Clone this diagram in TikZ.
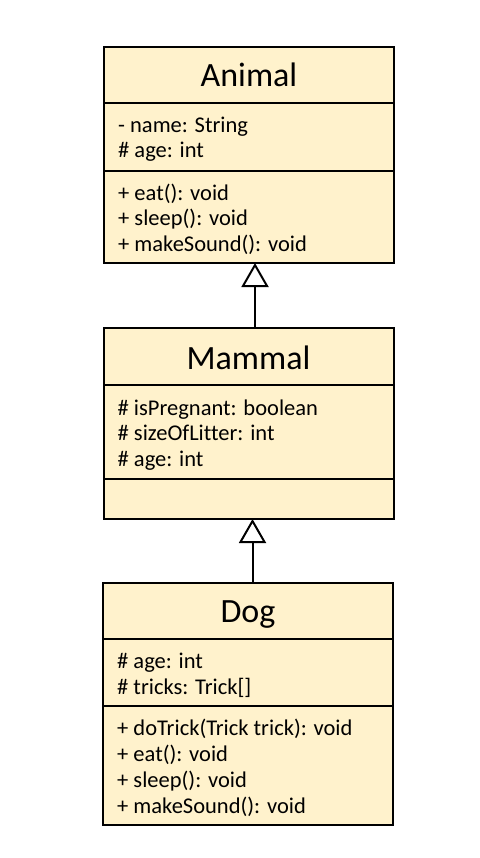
\documentclass[tikz,border=0pt]{standalone}
\usepackage{fontspec}
\setmainfont[Ligatures=NoCommon]{Carlito}
\usepackage{tikz}
\usetikzlibrary{arrows.meta}
\definecolor{classfill}{HTML}{FFF2CC}
\tikzset{
  compart/.style={draw, fill=classfill, line width=2pt, minimum width=290pt, anchor=north, inner sep=0pt, outer sep=0pt},
  classname/.style={anchor=base, inner sep=0pt, font=\fontsize{34}{40}\selectfont},
  member/.style={anchor=base west, inner sep=0pt, font=\fontsize{22.5}{26}\selectfont},
  inherit/.style={line width=2pt, -{Triangle[open, length=24pt, width=27pt, line width=2pt]}}
}

\begin{document}
\begin{tikzpicture}[x=1pt, y=-1pt]
    \useasboundingbox (0,0) rectangle (479,858);
    % Animal
    \node[compart, minimum height=56pt] (animal) at (249,47) {};
    \node[compart, minimum height=68pt] (animalattr) at (animal.south) {};
    \node[compart, minimum height=92pt] (animalops) at (animalattr.south) {};
    \node[classname] (animalname) at ([yshift=-40pt]animal.north) {Animal};
    \foreach \txt [count=\i, evaluate=\i as \dy using -29.5-(\i-1)*25] in {{- name: String}, {\# age: int}}
        \node[member] (animalattr\i) at ([xshift=14pt, yshift=\dy pt]animalattr.north west) {\txt};
    \foreach \txt [count=\i, evaluate=\i as \dy using -29.5-(\i-1)*25.5] in {{+ eat(): void}, {+ sleep(): void}, {+ makeSound(): void}}
        \node[member] (animalops\i) at ([xshift=14pt, yshift=\dy pt]animalops.north west) {\txt};
    % Mammal
    \node[compart, minimum height=57pt] (mammal) at (248.5,328) {};
    \node[compart, minimum height=94pt] (mammalattr) at (mammal.south) {};
    \node[compart, minimum height=40pt] (mammalops) at (mammalattr.south) {};
    \node[classname] (mammalname) at ([yshift=-41pt]mammal.north) {Mammal};
    \foreach \txt [count=\i, evaluate=\i as \dy using -30-(\i-1)*25.5] in {{\# isPregnant: boolean}, {\# sizeOfLitter: int}, {\# age: int}}
        \node[member] (mammalattr\i) at ([xshift=14pt, yshift=\dy pt]mammalattr.north west) {\txt};
    % Dog
    \node[compart, minimum height=56pt] (dog) at (248,583) {};
    \node[compart, minimum height=67pt] (dogattr) at (dog.south) {};
    \node[compart, minimum height=119pt] (dogops) at (dogattr.south) {};
    \node[classname] (dogname) at ([yshift=-39pt]dog.north) {Dog};
    \foreach \txt [count=\i, evaluate=\i as \dy using -29.5-(\i-1)*26] in {{\# age: int}, {\# tricks: Trick[]}}
        \node[member] (dogattr\i) at ([xshift=14pt, yshift=\dy pt]dogattr.north west) {\txt};
    \foreach \txt [count=\i, evaluate=\i as \dy using -29.5-(\i-1)*26] in {{+ doTrick(Trick trick): void}, {+ eat(): void}, {+ sleep(): void}, {+ makeSound(): void}}
        \node[member] (dogops\i) at ([xshift=14pt, yshift=\dy pt]dogops.north west) {\txt};
    % generalisation
    \draw[inherit] ([xshift=6.5pt]mammal.north) -- ([xshift=6pt]animalops.south);
    \draw[inherit] ([xshift=4.5pt]dog.north) -- ([xshift=4pt]mammalops.south);
\end{tikzpicture}
\end{document}
